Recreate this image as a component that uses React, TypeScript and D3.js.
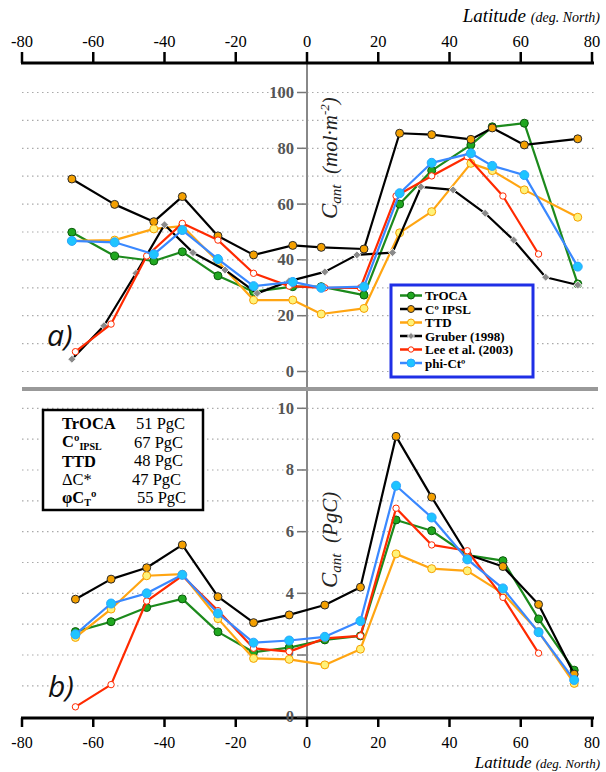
import * as d3 from "d3";
import React from "react";

// latitude bands
const latA = [-66, -54, -43, -35, -25, -15, -4, 4, 16, 26, 35, 46, 52, 61, 76];
const latGruber = [-66, -57, -48, -40, -32, -23, -14, -5, 5, 14, 24, 32, 41, 50, 58, 67, 76];
const latLee = [-65, -55, -45, -35, -25, -15, -5, 5, 15, 25, 35, 45, 55, 65];
const latB = [-65, -55, -45, -35, -25, -15, -5, 5, 15, 25, 35, 45, 55, 65, 75];

// panel a) Cant (mol m-2)
const trocaA = [49.9, 41.4, 39.6, 42.9, 34.3, 28.6, 30.4, 30.4, 27.4, 60.0, 72.0, 81.2, 87.7, 89.0, 31.4];
const ipslA = [69.0, 59.9, 53.7, 62.7, 48.6, 41.8, 45.2, 44.5, 43.9, 85.4, 84.9, 83.2, 87.3, 81.2, 83.4];
const ttdA = [46.8, 47.1, 51.1, 52.1, 39.4, 25.6, 25.6, 20.6, 22.6, 49.7, 57.3, 74.6, 72.0, 65.1, 55.3];
const gruberA = [4.4, 16.4, 35.2, 52.6, 42.6, 36.4, 28.0, 32.4, 35.7, 41.8, 42.6, 66.2, 65.1, 56.7, 47.1, 33.8, 31.0];
const leeA = [7.1, 17.0, 41.4, 53.1, 47.1, 35.2, 30.6, 30.0, 30.0, 62.9, 70.1, 77.0, 62.9, 42.1];
const phiA = [46.8, 46.3, 42.0, 50.7, 40.3, 30.6, 32.1, 30.0, 30.4, 63.9, 74.8, 78.2, 73.7, 70.4, 37.6];

// panel b) Cant (PgC)
const trocaB = [2.76, 3.08, 3.54, 3.82, 2.75, 2.09, 2.24, 2.49, 2.62, 6.38, 6.03, 5.24, 5.06, 3.17, 1.51];
const ipslB = [3.81, 4.46, 4.83, 5.57, 3.89, 3.05, 3.3, 3.62, 4.2, 9.09, 7.12, 5.26, 4.87, 3.64, 1.38];
const ttdB = [2.57, 3.49, 4.57, 4.62, 3.18, 1.89, 1.86, 1.68, 2.19, 5.28, 4.8, 4.73, 4.0, 2.76, 1.08];
const leeB = [0.32, 1.04, 3.75, 4.57, 3.44, 2.22, 2.11, 2.54, 2.62, 6.76, 5.57, 5.38, 3.87, 2.06];
const phiB = [2.67, 3.67, 4.0, 4.6, 3.35, 2.4, 2.47, 2.59, 3.1, 7.49, 6.46, 5.1, 4.16, 2.74, 1.19];

const xTicks = [-80, -60, -40, -20, 0, 20, 40, 60, 80];
const yTicksA = [0, 20, 40, 60, 80, 100];
const yTicksB = [0, 2, 4, 6, 8, 10];

const legendNames = ["TrOCA", "C\u00BA IPSL", "TTD", "Gruber (1998)", "Lee et al. (2003)", "phi-Ct\u00BA"];
const totals = ["51 PgC", "67 PgC", "48 PgC", "47 PgC", "55 PgC"];

const serif = "'Liberation Serif', 'Times New Roman', serif";

// style per series
const styles = {
  troca: { line: "#1c8a1c", fill: "#20a820", stroke: "#0a5a0a", r: 4, shape: "circle" },
  ipsl: { line: "#000000", fill: "#f4a000", stroke: "#2a2a2a", r: 4, shape: "circle" },
  ttd: { line: "#ffa512", fill: "#fff27a", stroke: "#f5a000", r: 4, shape: "circle" },
  gruber: { line: "#000000", fill: "#8a8a8a", stroke: "#ffffff", r: 4, shape: "diamond" },
  lee: { line: "#ff2a00", fill: "#ffffff", stroke: "#ff2a00", r: 3.2, shape: "circle" },
  phi: { line: "#3a88ff", fill: "#1ec4ff", stroke: "#2aa6ff", r: 4.5, shape: "circle" },
};

const x = d3.scaleLinear().domain([-80, 80]).range([22, 592]);
const yA = d3.scaleLinear().domain([0, 100]).range([371.5, 92.5]);
const yB = d3.scaleLinear().domain([0, 10]).range([716.7, 408.3]);

function Marker({ cx, cy, st }) {
  if (st.shape === "diamond") {
    const r = st.r;
    return (
      <path
        d={`M${cx},${cy - r}L${cx + r},${cy}L${cx},${cy + r}L${cx - r},${cy}Z`}
        fill={st.fill}
        stroke={st.stroke}
        strokeWidth={0.9}
      />
    );
  }
  return <circle cx={cx} cy={cy} r={st.r} fill={st.fill} stroke={st.stroke} strokeWidth={1} />;
}

function Series({ lats, vals, y, st }) {
  const pts = lats.map((l, i) => [x(l), y(vals[i])]);
  const line = d3.line();
  return (
    <g>
      <path d={line(pts)} fill="none" stroke={st.line} strokeWidth={2.2} strokeLinejoin="round" />
      {pts.map((p, i) => (
        <Marker key={i} cx={p[0]} cy={p[1]} st={st} />
      ))}
    </g>
  );
}

export default function App() {
  const gridA = d3.range(0, 101, 10);
  const gridB = d3.range(1, 11, 1);
  const legendStyles = [styles.troca, styles.ipsl, styles.ttd, styles.gruber, styles.lee, styles.phi];

  return (
    <svg width={606} height={772} style={{ position: "absolute", left: 0, top: 0, background: "#fff" }}>
      {/* grid */}
      {gridA.map((v) => (
        <line key={"ga" + v} x1={22} x2={594} y1={yA(v)} y2={yA(v)} stroke="#aaa" strokeWidth={1.2} strokeDasharray="1.5,3.5" />
      ))}
      {gridB.map((v) => (
        <line key={"gb" + v} x1={22} x2={594} y1={yB(v)} y2={yB(v)} stroke="#aaa" strokeWidth={1.2} strokeDasharray="1.5,3.5" />
      ))}

      {/* vertical axis at 0 */}
      <line x1={x(0)} x2={x(0)} y1={64} y2={718} stroke="#888" strokeWidth={2} />

      {/* top axis */}
      <line x1={21} x2={594} y1={63} y2={63} stroke="#000" strokeWidth={3} />
      {xTicks.map((t) => (
        <g key={"tt" + t}>
          <line x1={x(t)} x2={x(t)} y1={52} y2={63} stroke="#000" strokeWidth={2.5} />
          <text x={x(t)} y={47} textAnchor="middle" fontFamily={serif} fontSize={16.5}>
            {t}
          </text>
        </g>
      ))}
      <text x={600} y={22} textAnchor="end" fontFamily={serif} fontStyle="italic">
        <tspan fontSize={19}>Latitude </tspan>
        <tspan fontSize={14}>(deg. North)</tspan>
      </text>

      {/* bottom axis */}
      <line x1={21} x2={594} y1={718} y2={718} stroke="#000" strokeWidth={3} />
      {xTicks.map((t) => (
        <g key={"bt" + t}>
          <line x1={x(t)} x2={x(t)} y1={718} y2={727} stroke="#000" strokeWidth={2.5} />
          <text x={x(t)} y={748} textAnchor="middle" fontFamily={serif} fontSize={16}>
            {t}
          </text>
        </g>
      ))}
      <text x={600} y={768} textAnchor="end" fontFamily={serif} fontStyle="italic">
        <tspan fontSize={17}>Latitude </tspan>
        <tspan fontSize={13}>(deg. North)</tspan>
      </text>

      {/* panel separator */}
      <line x1={22} x2={598} y1={389} y2={389} stroke="#999" strokeWidth={4} />

      {/* y ticks a */}
      {yTicksA.map((t) => (
        <g key={"ya" + t}>
          <line x1={297} x2={306} y1={yA(t)} y2={yA(t)} stroke="#777" strokeWidth={1.5} />
          <text x={294} y={yA(t) + 5.5} textAnchor="end" fontFamily={serif} fontWeight="bold" fontSize={16.5} fill="#555">
            {t}
          </text>
        </g>
      ))}
      {/* y ticks b */}
      {yTicksB.map((t) => (
        <g key={"yb" + t}>
          <line x1={297} x2={306} y1={yB(t)} y2={yB(t)} stroke="#777" strokeWidth={1.5} />
          <text x={294} y={yB(t) + 5.5} textAnchor="end" fontFamily={serif} fontWeight="bold" fontSize={16.5} fill="#555">
            {t}
          </text>
        </g>
      ))}

      {/* y titles */}
      <text transform="translate(337,219) rotate(-90)" fontFamily={serif} fontStyle="italic" fill="#222">
        <tspan fontSize={23}>C</tspan>
        <tspan fontSize={15} dy={4}>ant</tspan>
        <tspan fontSize={21} dy={-4}>{"\u00A0\u00A0(mol\u00B7m"}</tspan>
        <tspan fontSize={13} dy={-8}>-2</tspan>
        <tspan fontSize={21} dy={8}>)</tspan>
      </text>
      <text transform="translate(337,588) rotate(-90)" fontFamily={serif} fontStyle="italic" fill="#222">
        <tspan fontSize={23}>C</tspan>
        <tspan fontSize={15} dy={4}>ant</tspan>
        <tspan fontSize={21} dy={-4}>{"\u00A0\u00A0(PgC)"}</tspan>
      </text>

      {/* panel labels */}
      <text x={47} y={346} fontFamily="'Open Sans', sans-serif" fontStyle="italic" fontSize={30} fill="#111">
        a)
      </text>
      <text x={48} y={697} fontFamily="'Open Sans', sans-serif" fontStyle="italic" fontSize={30} fill="#111">
        b)
      </text>

      {/* series panel a */}
      <Series lats={latA} vals={trocaA} y={yA} st={styles.troca} />
      <Series lats={latA} vals={ipslA} y={yA} st={styles.ipsl} />
      <Series lats={latA} vals={ttdA} y={yA} st={styles.ttd} />
      <Series lats={latGruber} vals={gruberA} y={yA} st={styles.gruber} />
      <Series lats={latLee} vals={leeA} y={yA} st={styles.lee} />
      <Series lats={latA} vals={phiA} y={yA} st={styles.phi} />

      {/* series panel b */}
      <Series lats={latB} vals={trocaB} y={yB} st={styles.troca} />
      <Series lats={latB} vals={ipslB} y={yB} st={styles.ipsl} />
      <Series lats={latB} vals={ttdB} y={yB} st={styles.ttd} />
      <Series lats={latLee} vals={leeB} y={yB} st={styles.lee} />
      <Series lats={latB} vals={phiB} y={yB} st={styles.phi} />

      {/* legend */}
      <rect x={391} y={285} width={142} height={92} fill="#fff" stroke="#1f2fe6" strokeWidth={3} />
      {legendNames.map((n, i) => {
        const yy = 295.5 + i * 13.5;
        const st = legendStyles[i];
        return (
          <g key={"lg" + i}>
            <line x1={400} x2={422} y1={yy} y2={yy} stroke={st.line} strokeWidth={2.5} />
            <Marker cx={411} cy={yy} st={{ ...st, r: st.r - 0.5 }} />
            <text x={425} y={yy + 4.5} fontFamily={serif} fontWeight="bold" fontSize={13}>
              {n}
            </text>
          </g>
        );
      })}

      {/* totals box */}
      <rect x={43} y={410} width={160} height={100} fill="#fff" stroke="#000" strokeWidth={2.5} />
      <g fontFamily={serif} fontSize={16.5}>
        <text x={62} y={429} fontWeight="bold">TrOCA</text>
        <text x={62} y={447} fontWeight="bold">
          C{"\u00BA"}
          <tspan fontSize={10} dy={3}>IPSL</tspan>
        </text>
        <text x={62} y={467} fontWeight="bold">TTD</text>
        <text x={62} y={485}>{"\u0394C*"}</text>
        <text x={62} y={503} fontWeight="bold">
          {"\u03C6C"}
          <tspan fontSize={10} dy={3}>T</tspan>
          <tspan dy={-3}>{"\u00BA"}</tspan>
        </text>
        {totals.map((t, i) => (
          <text key={"tot" + i} x={[136, 134, 134, 132, 137][i]} y={429 + i * 18.5}>
            {t}
          </text>
        ))}
      </g>
    </svg>
  );
}
